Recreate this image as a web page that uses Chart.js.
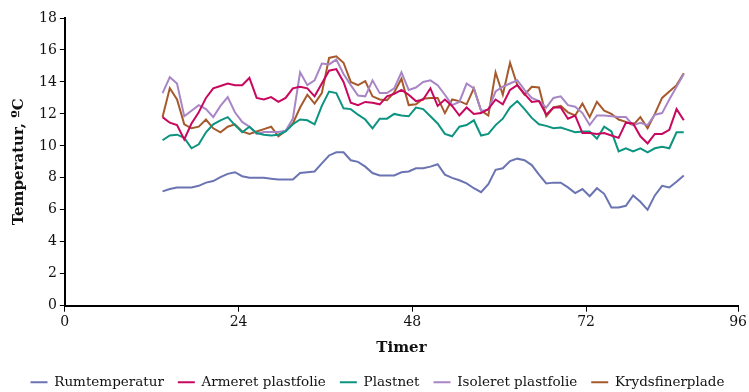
<!DOCTYPE html>
<html>
<head>
<meta charset="utf-8">
<script src="https://cdn.jsdelivr.net/npm/chart.js@4.4.1/dist/chart.umd.min.js"></script>
<style>
html, body { margin: 0; padding: 0; background: #fff; }
#wrap { width: 749px; height: 392px; }
</style>
</head>
<body>
<div id="wrap"><canvas id="tempChart"></canvas></div>
<script>
// timer (hours)
var hours = [13.5, 14.5, 15.5, 16.5, 17.5, 18.5, 19.5, 20.5, 21.5, 22.5, 23.5, 24.5, 25.5, 26.5, 27.5,
  28.5, 29.5, 30.5, 31.5, 32.5, 33.5, 34.5, 35.5, 36.5, 37.5, 38.5, 39.5, 40.5, 41.5, 42.5, 43.5,
  44.5, 45.5, 46.5, 47.5, 48.5, 49.5, 50.5, 51.5, 52.5, 53.5, 54.5, 55.5, 56.5, 57.5, 58.5, 59.5,
  60.5, 61.5, 62.5, 63.5, 64.5, 65.5, 66.5, 67.5, 68.5, 69.5, 70.5, 71.5, 72.5, 73.5, 74.5, 75.5,
  76.5, 77.5, 78.5, 79.5, 80.5, 81.5, 82.5, 83.5, 84.5, 85.5];

var rumtemperatur = [7.15, 7.3, 7.4, 7.4, 7.4, 7.5, 7.7, 7.8, 8.05, 8.25, 8.35, 8.1, 8.0, 8.0, 8.0,
  7.95, 7.9, 7.9, 7.9, 8.3, 8.35, 8.4, 8.9, 9.4, 9.6, 9.6, 9.1, 9.0, 8.7, 8.3, 8.15,
  8.15, 8.15, 8.35, 8.4, 8.6, 8.6, 8.7, 8.85, 8.2, 8.0, 7.85, 7.65, 7.35, 7.1, 7.6, 8.5,
  8.6, 9.05, 9.2, 9.1, 8.8, 8.2, 7.65, 7.7, 7.7, 7.4, 7.05, 7.3, 6.85, 7.35, 7.0, 6.15,
  6.15, 6.25, 6.9, 6.5, 6.0, 6.9, 7.5, 7.4, 7.75, 8.15];

var armeret = [11.8, 11.45, 11.3, 10.4, 11.4, 12.1, 13.0, 13.6, 13.75, 13.9, 13.8, 13.8, 14.25, 13.0, 12.9,
  13.05, 12.75, 13.0, 13.6, 13.7, 13.6, 13.1, 13.9, 14.7, 14.8, 14.0, 12.7, 12.55, 12.75, 12.7, 12.6,
  13.1, 13.25, 13.5, 13.2, 12.8, 12.9, 13.6, 12.5, 12.9, 12.5, 11.9, 12.4, 12.0, 12.05, 12.3, 12.9,
  12.6, 13.5, 13.8, 13.25, 12.75, 12.8, 11.95, 12.4, 12.4, 11.7, 11.9, 10.8, 10.8, 10.75, 10.8, 10.65,
  10.5, 11.45, 11.4, 10.6, 10.15, 10.75, 10.75, 11.0, 12.3, 11.6];

var plastnet = [10.35, 10.65, 10.7, 10.5, 9.85, 10.1, 10.85, 11.35, 11.6, 11.8, 11.3, 10.85, 11.2, 10.8, 10.7,
  10.65, 10.7, 10.9, 11.35, 11.65, 11.6, 11.35, 12.5, 13.4, 13.3, 12.35, 12.3, 11.95, 11.65, 11.1, 11.7,
  11.7, 12.0, 11.9, 11.85, 12.4, 12.3, 11.85, 11.4, 10.75, 10.6, 11.2, 11.3, 11.6, 10.65, 10.75, 11.3,
  11.7, 12.4, 12.8, 12.3, 11.75, 11.35, 11.25, 11.1, 11.15, 11.0, 10.85, 10.9, 10.9, 10.45, 11.2, 10.9,
  9.65, 9.85, 9.65, 9.85, 9.6, 9.85, 9.95, 9.85, 10.85, 10.85];

var isoleret = [13.3, 14.3, 13.9, 11.85, 12.2, 12.55, 12.3, 11.8, 12.5, 13.05, 12.1, 11.5, 11.2, 10.75, 10.87,
  10.87, 10.87, 10.95, 11.7, 14.6, 13.8, 14.1, 15.15, 15.1, 15.4, 14.5, 13.8, 13.15, 13.1, 14.1, 13.3,
  13.3, 13.6, 14.6, 13.5, 13.65, 14.0, 14.1, 13.8, 13.2, 12.55, 12.75, 13.9, 13.6, 12.2, 12.25, 13.4,
  13.7, 13.9, 14.1, 13.5, 13.0, 12.8, 12.4, 13.0, 13.1, 12.55, 12.45, 12.05, 11.3, 11.9, 11.9, 11.85,
  11.8, 11.8, 11.3, 11.45, 11.3, 11.95, 12.05, 12.9, 13.7, 14.5];

var krydsfiner = [11.8, 13.6, 12.9, 11.35, 11.1, 11.2, 11.65, 11.1, 10.85, 11.2, 11.35, 10.9, 10.75, 10.9, 11.05,
  11.2, 10.6, 10.95, 11.4, 12.4, 13.2, 12.65, 13.3, 15.5, 15.6, 15.2, 14.0, 13.8, 14.05, 13.1, 12.9,
  12.85, 13.35, 14.2, 12.55, 12.6, 12.95, 13.0, 13.0, 12.05, 12.9, 12.8, 12.6, 13.6, 12.2, 11.9, 14.6,
  13.2, 15.2, 13.8, 13.2, 13.7, 13.65, 11.85, 12.4, 12.5, 12.1, 11.9, 12.65, 11.8, 12.75, 12.2, 12.0,
  11.65, 11.5, 11.3, 11.8, 11.1, 12.0, 13.0, 13.4, 13.8, 14.55];

var seriesNames = ['Rumtemperatur', 'Armeret plastfolie', 'Plastnet', 'Isoleret plastfolie', 'Krydsfinerplade'];
var seriesColors = ['#6b74b3', '#c8075f', '#0c9480', '#a886c6', '#a65a2c'];

var xTicks = [0, 24, 48, 72, 93];
var xTickLabels = ['0', '24', '48', '72', '96'];

function points(vals) {
  return vals.map(function (v, i) { return { x: hours[i], y: v }; });
}

var allSeries = [rumtemperatur, armeret, plastnet, isoleret, krydsfiner];
var datasets = allSeries.map(function (vals, i) {
  return {
    label: seriesNames[i],
    data: points(vals),
    borderColor: seriesColors[i],
    backgroundColor: seriesColors[i],
    borderWidth: 2,
    pointRadius: 0,
    tension: 0
  };
});

var serif = 'DejaVu Serif';
var ctx = document.getElementById('tempChart').getContext('2d');
var myChart = new Chart(ctx, {
  type: 'line',
  data: { datasets: datasets },
  options: {
    responsive: true,
    maintainAspectRatio: false,
    animation: false,
    layout: { padding: { left: 10, right: 4, top: 18, bottom: -7 } },
    plugins: {
      tooltip: { enabled: false },
      legend: {
        position: 'bottom',
        labels: {
          usePointStyle: true,
          pointStyle: 'line',
          pointStyleWidth: 17,
          padding: 14,
          color: '#111',
          font: { family: serif, size: 13.5 }
        }
      }
    },
    scales: {
      x: {
        type: 'linear',
        min: 0,
        max: 93,
        afterBuildTicks: function (axis) {
          axis.ticks = xTicks.map(function (v) { return { value: v }; });
        },
        ticks: {
          color: '#111',
          font: { family: serif, size: 14 },
          maxRotation: 0,
          padding: 2,
          callback: function (value) {
            var i = xTicks.indexOf(value);
            return i >= 0 ? xTickLabels[i] : '';
          }
        },
        grid: { drawOnChartArea: false, drawTicks: true, tickLength: 6, color: '#000' },
        border: { color: '#000', width: 2 },
        title: {
          display: true,
          text: 'Timer',
          color: '#111',
          font: { family: serif, size: 15, weight: 'bold' },
          padding: { top: 7, bottom: 4 }
        }
      },
      y: {
        min: 0,
        max: 18,
        ticks: {
          stepSize: 2,
          color: '#111',
          font: { family: serif, size: 14 },
          padding: 3
        },
        grid: { drawOnChartArea: false, drawTicks: true, tickLength: 5, color: '#000' },
        border: { color: '#000', width: 2 },
        title: {
          display: true,
          text: 'Temperatur, ºC',
          color: '#111',
          font: { family: serif, size: 15, weight: 'bold' },
          padding: { top: 0, bottom: 8 }
        }
      }
    }
  }
});
</script>
</body>
</html>
